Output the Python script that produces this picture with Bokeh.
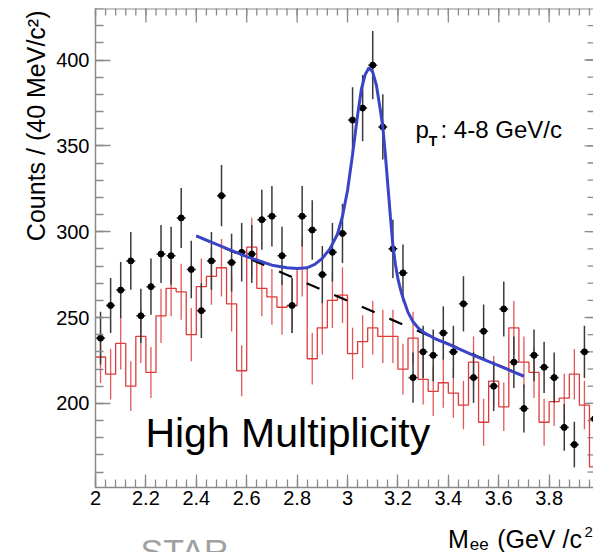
import math
from bokeh.plotting import figure
from bokeh.models import Range1d, SingleIntervalTicker, NumeralTickFormatter, Label, ColumnDataSource
from bokeh.embed import file_html
from bokeh.resources import INLINE

# ---- data ----
mass = [2.02, 2.06, 2.10, 2.14, 2.18, 2.22, 2.26, 2.30, 2.34, 2.38,
        2.42, 2.46, 2.50, 2.54, 2.58, 2.62, 2.66, 2.70, 2.74, 2.78,
        2.82, 2.86, 2.90, 2.94, 2.98, 3.02, 3.06, 3.10, 3.14, 3.18,
        3.22, 3.26, 3.30, 3.34, 3.38, 3.42, 3.46, 3.50, 3.54, 3.58,
        3.62, 3.66, 3.70, 3.74, 3.78, 3.82, 3.86, 3.90, 3.94, 3.98]
bin_half = 0.02

unlike = [238, 257, 266, 283, 251, 268, 287, 286, 308, 278,
          254, 283, 321, 282, 288, 287, 307, 309, 286, 257,
          309, 301, 275, 288, 299, 365, 372, 397, 361, 290,
          276, 215, 230, 228, 241, 230, 258, 215, 242, 210,
          255, 224, 197, 228, 221, 215, 186, 176, 230, 191]
unlike_err = [15.4, 16.0, 16.3, 16.8, 15.8, 16.4, 16.9, 16.9, 17.5, 16.7,
              15.9, 16.8, 17.9, 16.8, 17.0, 16.9, 17.5, 17.6, 16.9, 16.0,
              17.6, 17.3, 16.6, 17.0, 17.3, 19.1, 19.3, 19.9, 19.0, 17.0,
              16.6, 14.7, 15.2, 15.1, 15.5, 15.2, 16.1, 14.7, 15.6, 14.5,
              16.0, 15.0, 14.0, 15.1, 14.9, 14.7, 13.6, 13.3, 15.2, 13.8]

likesign = [227, 217, 235, 210, 239, 218, 251, 267, 265, 240,
            268, 274, 279, 258, 219, 291, 267, 262, 256, 257,
            279, 226, 244, 260, 263, 229, 236, 244, 239, 239,
            220, 238, 214, 207, 212, 206, 199, 224, 189, 213,
            198, 244, 224, 218, 189, 201, 203, 217, 199, 163]
likesign_err = [15.1, 14.7, 15.3, 14.5, 15.5, 14.8, 15.8, 16.3, 16.3, 15.5,
                16.4, 16.6, 16.7, 16.1, 14.8, 17.1, 16.3, 16.2, 16.0, 16.0,
                16.7, 15.0, 15.6, 16.1, 16.2, 15.1, 15.4, 15.6, 15.5, 15.5,
                14.8, 15.4, 14.6, 14.4, 14.6, 14.4, 14.1, 15.0, 13.7, 14.6,
                14.1, 15.6, 15.0, 14.8, 13.7, 14.2, 14.2, 14.7, 14.1, 12.8]

fit_x = [2.40, 2.50, 2.60, 2.70, 2.76, 2.80, 2.84, 2.87, 2.90, 2.93,
         2.96, 2.98, 3.00, 3.02, 3.04, 3.055, 3.07, 3.085, 3.10, 3.115,
         3.13, 3.14, 3.15, 3.16, 3.17, 3.18, 3.19, 3.20, 3.21, 3.22,
         3.24, 3.26, 3.28, 3.30, 3.35, 3.40, 3.50, 3.60, 3.70]
fit_y = [297.5, 291.5, 285.5, 280.5, 279.0, 278.5, 279.0, 281.0, 284.5, 290.0,
         298.5, 309.0, 324.0, 345.0, 368.0, 383.0, 391.5, 395.5, 393.0, 385.0,
         371.0, 361.0, 345.0, 327.0, 309.0, 292.0, 281.0, 272.5, 266.5, 261.5,
         253.0, 247.5, 244.0, 241.5, 237.5, 234.5, 228.0, 222.0, 215.8]

bkg_x = [2.40, 3.70]
bkg_y = [297.5, 215.8]

# tick positions for the frame's top and right edges
x_major_ticks = [2.0, 2.2, 2.4, 2.6, 2.8, 3.0, 3.2, 3.4, 3.6, 3.8]
x_minor_ticks = [round(2.0 + 0.04 * k, 2) for k in range(50)]
y_major_ticks = [200, 250, 300, 350, 400]
y_minor_ticks = list(range(160, 430, 10))

# axis window: x 2 .. 3.976 (right edge cut by the picture), y 151 .. 430
X_LO, X_HI = 2.0, 3.976
Y_LO, Y_HI = 151, 430
X_FRAME_RIGHT = 4.0
W, H = 593, 552
AXIS_LEFT_PX, AXIS_BOTTOM_PX, TOP_PX = 95, 487, 8
PX_PER_X = (W - AXIS_LEFT_PX) / (X_HI - X_LO)
PX_PER_Y = (AXIS_BOTTOM_PX - TOP_PX) / (Y_HI - Y_LO)
X_VIEW_LO = X_LO - AXIS_LEFT_PX / PX_PER_X            # view reaches the canvas' left edge
Y_VIEW_LO = Y_LO - (H - AXIS_BOTTOM_PX) / PX_PER_Y     # and its bottom edge

# ---- derived geometry ----
edges = [m - bin_half for m in mass] + [mass[-1] + bin_half]
step_y = likesign + [likesign[-1]]

src_u = ColumnDataSource(dict(
    x=mass, y=unlike,
    lo=[v - e for v, e in zip(unlike, unlike_err)],
    hi=[v + e for v, e in zip(unlike, unlike_err)],
    xl=[m - 0.018 for m in mass], xr=[m + 0.018 for m in mass]))
src_l = ColumnDataSource(dict(
    x=mass,
    lo=[max(v - e, Y_LO) for v, e in zip(likesign, likesign_err)],
    hi=[v + e for v, e in zip(likesign, likesign_err)]))

FONT = "Liberation Sans"
GRAY = "#8a8a8a"
RED = "#dc3c3c"
BLUE = "#3b44c6"

p = figure(width=W, height=H,
           x_range=Range1d(X_VIEW_LO, X_HI), y_range=Range1d(Y_VIEW_LO, Y_HI),
           output_backend="svg", toolbar_location=None,
           min_border_left=0, min_border_right=0,
           min_border_top=TOP_PX, min_border_bottom=0)
p.xgrid.visible = False
p.ygrid.visible = False
p.outline_line_color = None
p.background_fill_color = "white"
p.border_fill_color = "white"

def style_axis(ax, major_in, minor_in):
    ax.axis_line_color = GRAY
    ax.axis_line_width = 1.5
    ax.major_tick_line_color = GRAY
    ax.minor_tick_line_color = GRAY
    ax.major_tick_line_width = 1.3
    ax.minor_tick_line_width = 1.3
    ax.major_tick_in = major_in
    ax.major_tick_out = 0
    ax.minor_tick_in = minor_in
    ax.minor_tick_out = 0
    ax.major_label_text_font = FONT
    ax.major_label_text_font_size = "20px"
    ax.major_label_text_color = "black"

xa = p.xaxis[0]
xa.ticker = SingleIntervalTicker(interval=0.2, num_minor_ticks=5)
xa.formatter = NumeralTickFormatter(format="0.[0]")
xa.fixed_location = Y_LO
xa.bounds = (X_LO, X_HI)
style_axis(xa, 13, 8)
xa.major_label_standoff = 3

ya = p.yaxis[0]
ya.ticker = SingleIntervalTicker(interval=50, num_minor_ticks=5)
ya.fixed_location = X_LO
ya.bounds = (Y_LO, Y_HI)
style_axis(ya, 15, 8)
ya.major_label_standoff = 6

# frame top line and inward ticks on top / right edges
p.line([X_LO, X_HI], [Y_HI, Y_HI], line_color=GRAY, line_width=2)
p.scatter(x=x_minor_ticks, y=[Y_HI] * len(x_minor_ticks), marker="dash", angle=math.pi / 2,
          size=14, line_color=GRAY, line_width=1.3)
p.scatter(x=x_major_ticks, y=[Y_HI] * len(x_major_ticks), marker="dash", angle=math.pi / 2,
          size=28, line_color=GRAY, line_width=1.3)
p.scatter(x=[X_FRAME_RIGHT] * len(y_minor_ticks), y=y_minor_ticks, marker="dash",
          size=24, line_color=GRAY, line_width=1.3)
p.scatter(x=[X_FRAME_RIGHT] * len(y_major_ticks), y=y_major_ticks, marker="dash",
          size=30, line_color=GRAY, line_width=1.3)

# like-sign histogram (red)
p.step(x=edges, y=step_y, mode="after", line_color=RED, line_width=1.3)
p.segment(x0="x", y0="lo", x1="x", y1="hi", source=src_l, line_color=RED, line_width=1.3, line_alpha=0.85)

# unlike-sign points (black)
p.segment(x0="x", y0="lo", x1="x", y1="hi", source=src_u, line_color="#3a3a3a", line_width=1.5)
p.segment(x0="xl", y0="y", x1="xr", y1="y", source=src_u, line_color="#3a3a3a", line_width=1.5)
p.scatter(x="x", y="y", source=src_u, size=6, color="black")

# background and fit
p.line(bkg_x, bkg_y, line_color="black", line_width=2.2, line_dash="14 16")
p.line(fit_x, fit_y, line_color=BLUE, line_width=3)

# ---- texts ----
def data_label(x, y, text, size, style="normal"):
    p.add_layout(Label(x=x, y=y, text=text, text_font=FONT, text_font_size=size,
                       text_font_style=style, text_color="black", text_baseline="middle"))

data_label(3.2698, 359.7, "p", "24px")
data_label(3.3226, 353.1, "T", "14px", "bold")
data_label(3.369, 359.7, ": 4-8 GeV/c", "24px")
data_label(2.198, 182.7, "High Multiplicity", "41px")

def canvas_label(x, y, text, size, color="black", angle=0.0, align="left"):
    p.add_layout(Label(x=x, y=y, x_units="canvas", y_units="canvas", text=text,
                       text_font=FONT, text_font_size=size, text_color=color,
                       angle=angle, text_align=align, text_baseline="middle"))

canvas_label(35.3, 10.0, "Counts / (40 MeV/c²)", "25px", angle=math.pi / 2, align="right")
canvas_label(447.6, 538.3, "M", "25px")
canvas_label(469.3, 543.0, "ee", "17px")
canvas_label(496.7, 538.3, "(GeV /c", "25px")
canvas_label(584.0, 531.8, "2", "15px")
canvas_label(140.0, 550.1, "STAR", "34px", "#a0a0a0")

open("out.html", "w").write(file_html(p, INLINE))
